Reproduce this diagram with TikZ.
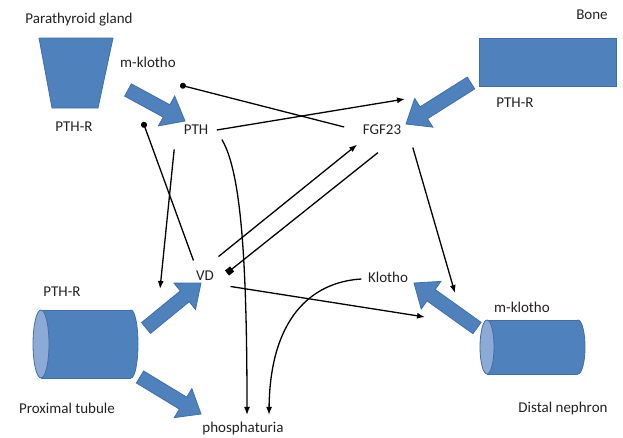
\documentclass[tikz,border=0pt]{standalone}
\usepackage{fontspec}
\setmainfont{Carlito}
\usetikzlibrary{arrows.meta,calc}
\definecolor{organblue}{HTML}{4F81BD}
\definecolor{organedge}{HTML}{3F6FA8}
\definecolor{organface}{HTML}{8DA9D6}
\definecolor{labelgray}{HTML}{222222}

% wide blue arrow: tail, tip
\newcommand{\fatarrow}[2]{%
  \coordinate (fa-neck) at ($(#2)!21pt!(#1)$);
  \filldraw[organ]
    ($(#1)!7pt!90:(#2)$) -- ($(fa-neck)!7pt!-90:(#1)$)
    -- ($(fa-neck)!17pt!-90:(#1)$) -- (#2)
    -- ($(fa-neck)!17pt!90:(#1)$) -- ($(fa-neck)!7pt!90:(#1)$)
    -- ($(#1)!7pt!-90:(#2)$) -- cycle;
}

\begin{document}
\begin{tikzpicture}[x=1pt, y=-1pt, line width=1.3pt,
  font=\fontsize{15}{17}\selectfont,
  organ/.style={fill=organblue, draw=organedge, line width=0.8pt},
  face/.style={fill=organface, draw=organedge, line width=0.8pt},
  term/.style={text=labelgray, inner sep=2pt},
  to/.style={-{Latex[length=8pt,width=6pt]}},
  dot/.style={-{Circle[length=6pt]}},
  sq/.style={-{Square[length=6.5pt]}}
]
  \useasboundingbox (0,0) rectangle (623,437);

  % organs
  \node[term] (glandlbl) at (79,20) {Parathyroid gland};
  \filldraw[organ] (39,38) -- (113,38) -- (98,108) -- (52,108) -- cycle;
  \node[term] (glandr) at (74,127) {PTH-R};
  \node[term] (glandk) at (148,62) {m-klotho};

  \node[term] (bonelbl) at (592,15) {Bone};
  \filldraw[organ] (479,38) rectangle (616,86);
  \node[term] (boner) at (515,103) {PTH-R};

  \node[term] (proxr) at (62,292) {PTH-R};
  \filldraw[organ] (131,344) ellipse [x radius=7, y radius=34];
  \fill[organblue] (41,310) rectangle (131,378);
  \draw[organedge, line width=0.8pt] (41,310) -- (131,310) (41,378) -- (131,378);
  \filldraw[face] (41,344) ellipse [x radius=8, y radius=34];
  \node[term] (proxlbl) at (67,408) {Proximal tubule};

  \node[term] (distk) at (522,307) {m-klotho};
  \filldraw[organ] (578,347) ellipse [x radius=7, y radius=27];
  \fill[organblue] (487,320) rectangle (578,374);
  \draw[organedge, line width=0.8pt] (487,320) -- (578,320) (487,374) -- (578,374);
  \filldraw[face] (487,347) ellipse [x radius=7, y radius=27];
  \node[term] (distlbl) at (563,408) {Distal nephron};

  % factors
  \node[term] (pth) at (196,130) {PTH};
  \node[term] (fgf) at (382,130) {FGF23};
  \node[term] (vd) at (205,276) {VD};
  \node[term] (klotho) at (388,277) {Klotho};
  \node[term] (phos) at (243,428) {phosphaturia};

  % wide arrows
  \coordinate (glandout) at (128,90);
  \coordinate (pthin) at (185,121);
  \fatarrow{glandout}{pthin}
  \coordinate (boneout) at (471,83);
  \coordinate (fgfbig) at (406,124);
  \fatarrow{boneout}{fgfbig}
  \coordinate (proxout1) at (146,328);
  \coordinate (vdbig) at (201,283);
  \fatarrow{proxout1}{vdbig}
  \coordinate (proxout2) at (140,377);
  \coordinate (phosbig) at (201,414);
  \fatarrow{proxout2}{phosbig}
  \coordinate (distout) at (477,328);
  \coordinate (klothobig) at (414,283);
  \fatarrow{distout}{klothobig}

  % free ends
  \coordinate (fgfin) at (405,99);
  \coordinate (pthdot) at (180,85);
  \coordinate (vddot) at (143,122);
  \coordinate (vdin) at (160,289);
  \coordinate (vdsq) at (227,273);
  \coordinate (distin) at (455,293);
  \coordinate (klothoin) at (425,317);

  % regulation
  \draw[to] ([xshift=6pt]pth.east) -- (fgfin);
  \draw[dot] ([xshift=-16pt,yshift=3pt]fgf.west) -- (pthdot);
  \draw[dot] ([yshift=8pt]vd.north west) -- (vddot);
  \draw[to] ([xshift=-7pt,yshift=-12pt]pth.south west) -- (vdin);
  \draw[to] ([xshift=11pt,yshift=-2pt]pth.south east)
    .. controls (240,170) and (247,250) .. ([xshift=4pt,yshift=4pt]phos.north);
  \draw[to] ([xshift=2pt,yshift=12pt]vd.north east)
    -- ([xshift=-3pt,yshift=-7pt]fgf.south west);
  \draw[sq] ([xshift=-4pt,yshift=-15pt]fgf.south) -- (vdsq);
  \draw[to] ([xshift=9pt,yshift=-10pt]fgf.south east) -- (distin);
  \draw[to] ([xshift=14pt,yshift=-3pt]vd.south east) -- (klothoin);
  \draw[to] ([xshift=-4pt,yshift=-2pt]klotho.west)
    .. controls (310,282) and (270,320) .. ([xshift=26pt,yshift=4pt]phos.north);
\end{tikzpicture}
\end{document}
